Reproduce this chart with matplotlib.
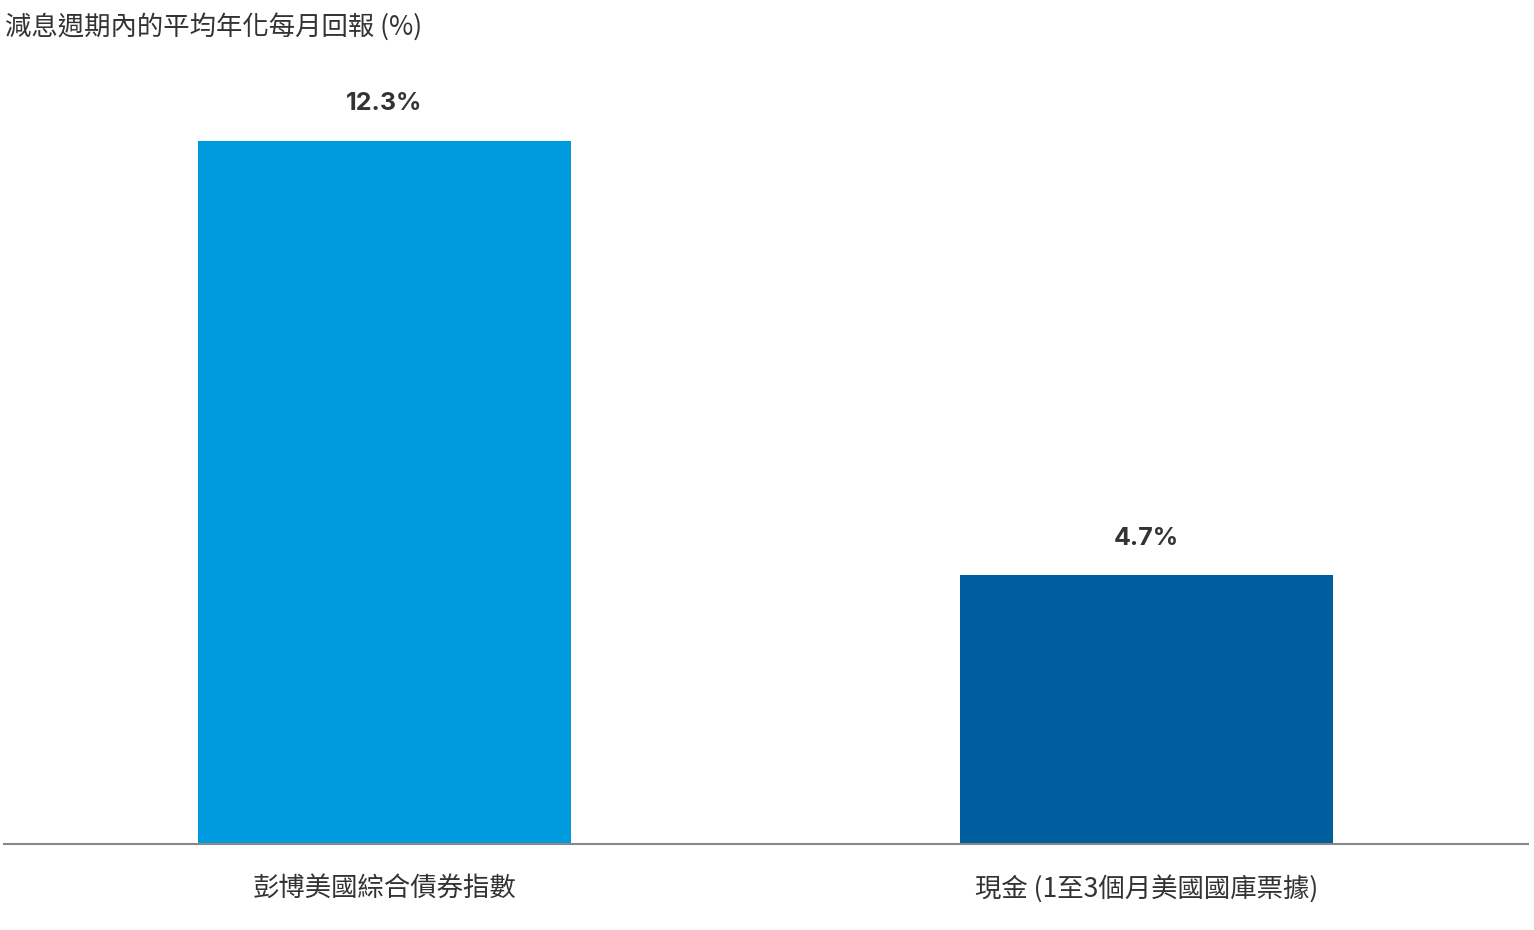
import matplotlib
matplotlib.use("Agg")
import matplotlib.pyplot as plt

plt.rcParams["font.family"] = ["Noto Sans CJK TC", "DejaVu Sans"]

categories = ["彭博美國綜合債券指數", "現金 (1至3個月美國國庫票據)"]
values = [12.3, 4.7]
colors = ["#009ADE", "#005E9E"]
title = "減息週期內的平均年化每月回報 (%)"

fig = plt.figure(figsize=(15.34, 9.3), dpi=100)
ax = fig.add_axes([4 / 1534, 86 / 930, 1524 / 1534, 784 / 930])

x = range(len(values))
ax.bar(x, values, width=0.4895, color=colors)
for xi, v in zip(x, values):
    ax.text(xi, v + 0.45, f"{v}%", ha="center", va="bottom", fontsize=18,
            fontweight="bold", color="#333333", family=["Inter", "DejaVu Sans"])

ax.set_xlim(-0.4993, 1.5007)
ax.set_ylim(0, 13.72)
ax.set_yticks([])
ax.set_xticks(list(x))
ax.set_xticklabels(categories, fontsize=19, color="#333333")
ax.tick_params(axis="x", length=0, pad=22)
for s in ["top", "right", "left"]:
    ax.spines[s].set_visible(False)
ax.spines["bottom"].set_color("#888888")
ax.spines["bottom"].set_linewidth(1.5)

fig.text(5 / 1534, 1 - 27 / 930, title, fontsize=19, color="#333333",
         ha="left", va="center")

fig.savefig("out.png", dpi=100)
